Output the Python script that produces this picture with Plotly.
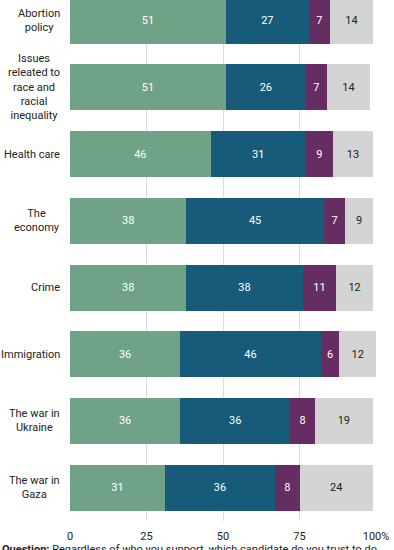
import plotly.graph_objects as go

issues = ["Abortion<br>policy", "Issues<br>releated to<br>race and<br>racial<br>inequality", "Health care",
          "The<br>economy", "Crime", "Immigration", "The war in<br>Ukraine", "The war in<br>Gaza"]
series_a = [51, 51, 46, 38, 38, 36, 36, 31]
series_b = [27, 26, 31, 45, 38, 46, 36, 36]
series_c = [7, 7, 9, 7, 11, 6, 8, 8]
series_d = [14, 14, 13, 9, 12, 12, 19, 24]
x_ticks = [0, 25, 50, 75, 100]
x_tick_labels = ["0", "25", "50", "75", "100%"]

colors = ["#6fa287", "#175a7a", "#662d63", "#d4d4d4"]
text_colors = ["white", "white", "white", "#222222"]
names = ["A", "B", "C", "D"]

cats = list(range(len(issues)))
fig = go.Figure()
for vals, col, tc, nm in zip([series_a, series_b, series_c, series_d], colors, text_colors, names):
    fig.add_trace(go.Bar(
        y=cats, x=vals, orientation="h", name=nm,
        marker=dict(color=col, line=dict(width=0)),
        text=vals, textposition="inside", insidetextanchor="middle",
        textangle=0, constraintext="none",
        textfont=dict(color=tc, size=11, family="Roboto"),
        hoverinfo="skip",
    ))

annotations = []
for i, lab in enumerate(issues):
    annotations.append(dict(
        x=0, xref="paper", xshift=-8, y=i, yref="y",
        text=lab, showarrow=False, xanchor="right", yanchor="middle",
        align="center", font=dict(size=11, color="#222222", family="Roboto"),
    ))
annotations.append(dict(
    x=-70 / 306, xref="paper", y=-20 / 521, yref="paper",
    text="<b>Question:</b> Regardless of who you support, which candidate do you trust to do<br>a better job handling each of the following issues?",
    showarrow=False, xanchor="left", yanchor="top", align="left",
    font=dict(size=11, color="#222222", family="Roboto"),
))

fig.update_layout(
    barmode="stack", bargap=0.31,
    width=394, height=550,
    margin=dict(l=70, r=18, t=0, b=29),
    paper_bgcolor="white", plot_bgcolor="white",
    showlegend=False,
    annotations=annotations,
    font=dict(family="Roboto", size=11, color="#222222"),
)
fig.update_xaxes(
    range=[0, 100], tickvals=x_ticks, ticktext=x_tick_labels,
    showgrid=True, gridcolor="#dddddd", gridwidth=1, zeroline=False,
    showline=False, ticks="", tickfont=dict(size=11, color="#222222"),
    ticklabelstandoff=7,
)
fig.update_yaxes(
    range=[7.5, -0.31], showticklabels=False, showgrid=False, zeroline=False, ticks="",
)
fig.write_html("out.html", config={"displayModeBar": False},
               post_script="document.body.style.margin='0';document.body.style.overflow='hidden';")
